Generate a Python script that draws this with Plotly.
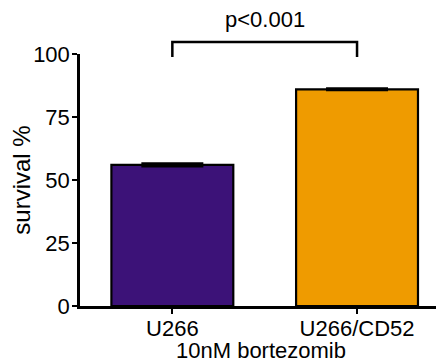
import plotly.graph_objects as go

categories = ["U266", "U266/CD52"]
survival = [56, 86]
errors = [0.6, 0.4]
colors = ["#3c1278", "#ef9b00"]
y_ticks = [0, 25, 50, 75, 100]
p_text = "p<0.001"
bracket_low = 98.8
bracket_high = 104.8

x_range = [-0.5, 1.46]
y_range = [0, 100]

FONT = "Liberation Sans, Arial, sans-serif"
FS = 22

fig = go.Figure()
fig.add_trace(go.Bar(
    x=list(range(len(categories))), y=survival,
    width=0.66,
    marker=dict(color=colors, line=dict(color="black", width=2.2)),
    error_y=dict(type="data", array=errors, visible=True, color="black", thickness=2, width=31),
))

def px_x(v):
    return (v - x_range[0]) / (x_range[1] - x_range[0])

def px_y(v):
    return (v - y_range[0]) / (y_range[1] - y_range[0])

x0, x1 = px_x(0), px_x(1)
fig.add_shape(type="path", xref="paper", yref="paper",
              path=f"M {x0} {px_y(bracket_low)} L {x0} {px_y(bracket_high)} L {x1} {px_y(bracket_high)} L {x1} {px_y(bracket_low)}",
              line=dict(color="black", width=2.5))
fig.add_annotation(x=0.5, y=px_y(bracket_high), xref="x", yref="paper", text=p_text,
                   showarrow=False, yanchor="bottom", yshift=8,
                   font=dict(size=FS, color="black", family=FONT))

fig.update_layout(
    width=436, height=355,
    margin=dict(l=72, r=2, t=46, b=57),
    plot_bgcolor="white", paper_bgcolor="white",
    showlegend=False,
    font=dict(family=FONT, size=FS, color="black"),
    xaxis=dict(range=x_range, tickvals=list(range(len(categories))), ticktext=categories,
               showline=True, linecolor="black", linewidth=2.5,
               ticks="outside", ticklen=5, tickwidth=2, tickcolor="black",
               showgrid=False, zeroline=False, automargin=False,
               ticklabelstandoff=-4,
               tickfont=dict(size=FS, family=FONT, color="black"),
               title=dict(text="10nM bortezomib", standoff=0,
                          font=dict(size=FS, family=FONT, color="black"))),
    yaxis=dict(range=y_range, tickvals=y_ticks,
               showline=True, linecolor="black", linewidth=2.5,
               ticks="outside", ticklen=5, tickwidth=2, tickcolor="black",
               showgrid=False, zeroline=False, automargin=False,
               ticklabelstandoff=-2,
               tickfont=dict(size=FS, family=FONT, color="black"),
               title=dict(text="survival %", standoff=7,
                          font=dict(size=24, family=FONT, color="black"))),
)

fig.write_html("out.html")
